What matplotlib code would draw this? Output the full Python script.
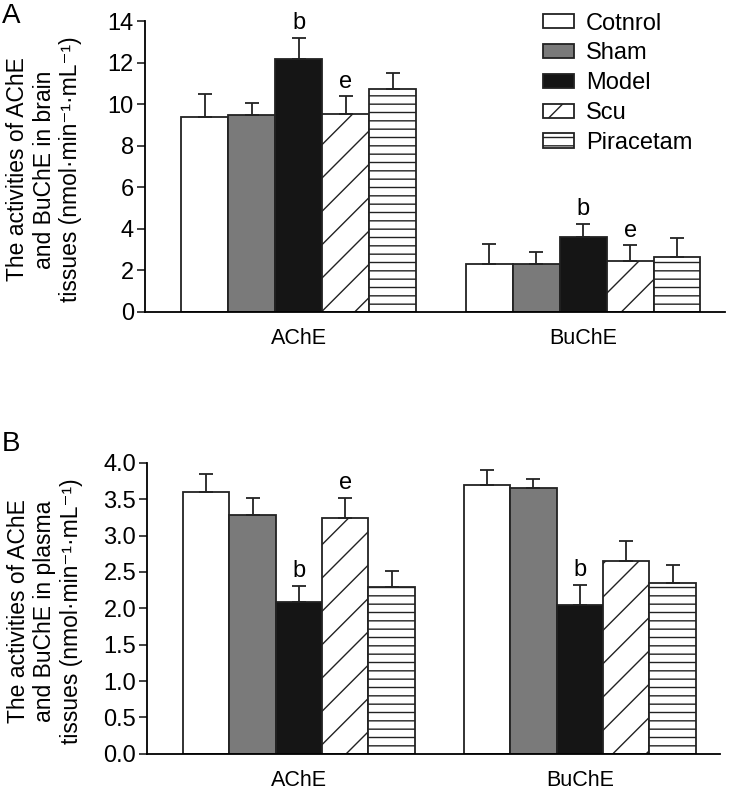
import numpy as np
import matplotlib.pyplot as plt
from matplotlib.patches import Patch

# groups and treatments
groups = ['AChE', 'BuChE']
treatments = ['Cotnrol', 'Sham', 'Model', 'Scu', 'Piracetam']

# panel A - brain tissues (rows: treatment, cols: AChE, BuChE)
brain_mean = [[9.4, 2.3], [9.5, 2.3], [12.2, 3.6], [9.55, 2.45], [10.75, 2.65]]
brain_err = [[1.1, 0.95], [0.55, 0.6], [1.0, 0.65], [0.85, 0.75], [0.75, 0.9]]
brain_marks = [[None, None], [None, None], ['b', 'b'], ['e', 'e'], [None, None]]

# panel B - plasma tissues
plasma_mean = [[3.6, 3.7], [3.28, 3.65], [2.08, 2.05], [3.24, 2.65], [2.29, 2.35]]
plasma_err = [[0.25, 0.2], [0.23, 0.12], [0.23, 0.27], [0.28, 0.27], [0.22, 0.25]]
plasma_marks = [[None, None], [None, None], ['b', 'b'], ['e', None], [None, None]]

colors = ['white', '#7a7a7a', '#151515', 'white', 'white']
hatches = [None, None, None, '/', '--']

plt.rcParams['font.family'] = ['Liberation Sans', 'DejaVu Sans']
plt.rcParams['font.size'] = 15
plt.rcParams['hatch.linewidth'] = 1.0
plt.rcParams['hatch.color'] = '#222222'

fig = plt.figure(figsize=(7.29, 7.91), dpi=100)
axA = fig.add_axes([0.199, 0.606, 0.796, 0.367])
axB = fig.add_axes([0.202, 0.047, 0.786, 0.368])

width = 0.165
x = np.arange(len(groups))


def draw(ax, mean, err, marks, ymax, step, ylabel, fmt, labx):
    for i, t in enumerate(treatments):
        pos = x + (i - 2) * width
        ax.bar(pos, mean[i], width, color=colors[i], edgecolor='#222222',
               linewidth=1.3, hatch=hatches[i], label=t)
        ax.errorbar(pos, mean[i], yerr=[np.zeros(len(groups)), err[i]],
                    fmt='none', ecolor='#222222', elinewidth=1.3,
                    capsize=5, capthick=1.3)
        for j in range(len(groups)):
            if marks[i][j]:
                ax.text(pos[j], mean[i][j] + err[i][j] + ymax * 0.012,
                        marks[i][j], ha='center', va='bottom', fontsize=17)
    ticks = np.arange(0, ymax + step / 2, step)
    ax.set_ylim(0, ymax)
    ax.set_xlim(-0.54, 1.5)
    ax.set_yticks(ticks)
    ax.set_yticklabels([fmt.format(v) for v in ticks])
    ax.set_xticks(x)
    ax.set_xticklabels(groups, fontsize=15.5)
    ax.tick_params(axis='x', length=0, pad=12)
    ax.tick_params(axis='y', length=6, width=1.3, color='#333333', pad=2, labelsize=17)
    ax.spines['top'].set_visible(False)
    ax.spines['right'].set_visible(False)
    ax.spines['left'].set_linewidth(1.3)
    ax.spines['bottom'].set_linewidth(1.3)
    ax.set_ylabel(ylabel, fontsize=16.5, linespacing=1.18)
    ax.yaxis.set_label_coords(labx, 0.49)


draw(axA, brain_mean, brain_err, brain_marks, 14, 2,
     'The activities of AChE\nand BuChE in brain\ntissues (nmol·min⁻¹·mL⁻¹)', '{:.0f}', -0.109)
draw(axB, plasma_mean, plasma_err, plasma_marks, 4.0, 0.5,
     'The activities of AChE\nand BuChE in plasma\ntissues (nmol·min⁻¹·mL⁻¹)', '{:.1f}', -0.113)

handles = [Patch(facecolor=colors[i], edgecolor='#222222', hatch=hatches[i],
                 linewidth=1.3, label=t) for i, t in enumerate(treatments)]
axA.legend(handles=handles, loc='upper left', bbox_to_anchor=(0.686, 1.03),
           frameon=False, handlelength=1.3, handleheight=0.55,
           handletextpad=0.5, labelspacing=0.33, fontsize=17,
           borderpad=0, borderaxespad=0)

fig.text(0.003, 0.996, 'A', fontsize=20, va='top', ha='left')
fig.text(0.003, 0.455, 'B', fontsize=20, va='top', ha='left')

fig.savefig('out.png', dpi=100)
